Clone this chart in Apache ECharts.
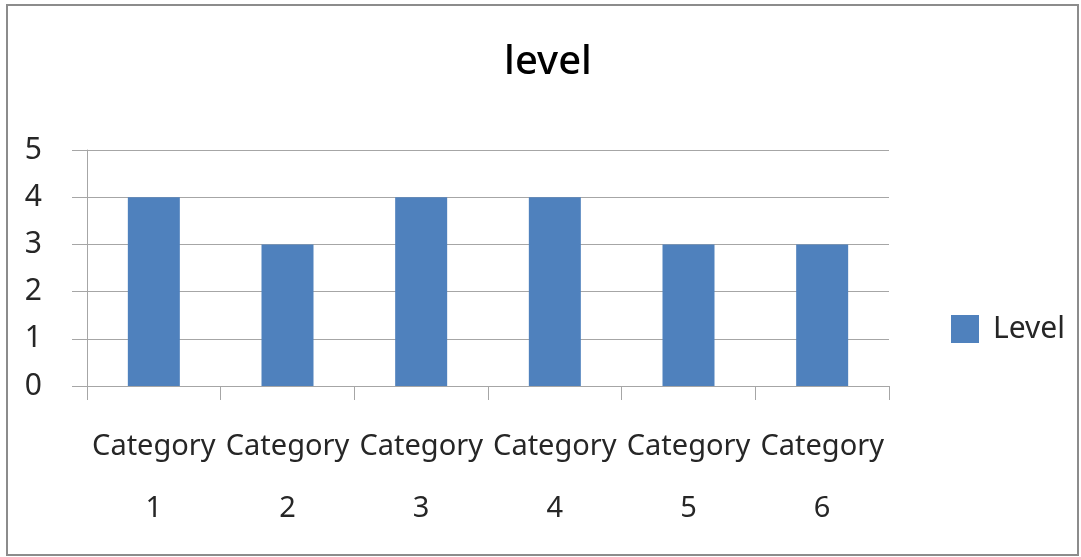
<!DOCTYPE html>
<html>
<head>
<meta charset="utf-8">
<script src="https://cdn.jsdelivr.net/npm/echarts@6/dist/echarts.min.js"></script>
<style>
  html, body { margin: 0; padding: 0; background: #fff; }
  #chart { width: 1081px; height: 557px; }
</style>
</head>
<body>
<div id="chart"></div>
<script>
// 数据
const categories = ['Category 1', 'Category 2', 'Category 3', 'Category 4', 'Category 5', 'Category 6']
const levelValues = [4, 3, 4, 4, 3, 3]
const seriesName = 'Level'
const titleText = 'level'

const axisGray = '#a6a6a6'
const font = '"Noto Sans", sans-serif'

const chart = echarts.init(document.getElementById('chart'))

chart.setOption({
  animation: false,
  textStyle: { fontFamily: font },
  title: {
    text: titleText,
    left: 543,
    top: 38,
    textAlign: 'center',
    textStyle: { fontSize: 40, fontWeight: 500, color: '#000', fontFamily: font }
  },
  legend: {
    left: 946,
    top: 309,
    itemWidth: 28,
    itemHeight: 28,
    icon: 'rect',
    data: [seriesName],
    textStyle: { fontSize: 30, color: '#262626', padding: [0, 0, 0, 9], fontFamily: font }
  },
  grid: {
    left: 87,
    right: 192,
    top: 150,
    bottom: 171,
    containLabel: false
  },
  xAxis: {
    type: 'category',
    data: categories,
    axisLine: { lineStyle: { color: axisGray, width: 1 } },
    axisTick: { show: true, length: 14, lineStyle: { color: axisGray } },
    axisLabel: {
      margin: 30,
      fontSize: 29,
      lineHeight: 62,
      color: '#262626',
      interval: 0,
      formatter: v => v.replace(' ', '\n')
    }
  },
  yAxis: {
    type: 'value',
    min: 0,
    max: 5,
    interval: 1,
    axisLine: { show: true, lineStyle: { color: axisGray, width: 1 } },
    axisTick: { show: true, length: 15, lineStyle: { color: axisGray } },
    splitLine: { lineStyle: { color: axisGray, width: 1 } },
    axisLabel: { margin: 45, fontSize: 30, color: '#262626' }
  },
  series: [
    {
      name: seriesName,
      type: 'bar',
      data: levelValues,
      barWidth: 52,
      itemStyle: { color: '#4f81bd' }
    }
  ],
  graphic: [
    {
      type: 'rect',
      shape: { x: 7, y: 5, width: 1071, height: 550 },
      style: { fill: 'none', stroke: '#8c8c8c', lineWidth: 2 },
      silent: true
    }
  ]
})
</script>
</body>
</html>
